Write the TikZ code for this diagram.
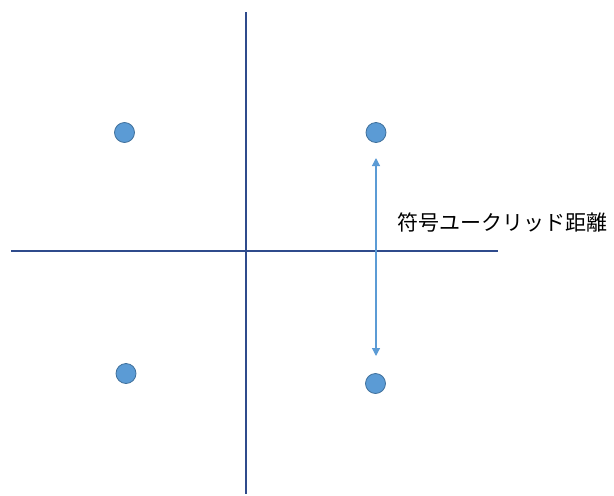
\documentclass[tikz,border=0pt]{standalone}
\usepackage{fontspec}
\newfontfamily\cjk{Noto Sans CJK JP}
\usetikzlibrary{arrows.meta}
\definecolor{axiscol}{HTML}{2F4B8C}
\definecolor{dotfill}{HTML}{5B9BD5}
\definecolor{dotedge}{HTML}{41719C}
\tikzset{
  axis/.style={draw=axiscol, line width=1.2pt},
  dot/.style={circle, fill=dotfill, draw=dotedge, line width=0.8pt, minimum size=20pt, inner sep=0pt},
  distarrow/.style={draw=dotfill, line width=1.2pt, {Triangle[length=8pt,width=8pt]}-{Triangle[length=8pt,width=8pt]}},
  lbl/.style={font=\cjk\fontsize{21pt}{24pt}\selectfont, inner sep=0pt, anchor=west}
}
\begin{document}
\begin{tikzpicture}[x=1pt,y=-1pt]
\useasboundingbox (0,0) rectangle (614,496);
\coordinate (vtop) at (246,12);
\coordinate (vbot) at (246,494);
\coordinate (hleft) at (11,251);
\coordinate (hright) at (498,251);
\draw[axis] (vtop) -- (vbot);
\draw[axis] (hleft) -- (hright);
\node[dot] (tl) at (124.5,132.5) {};
\node[dot] (tr) at (376,132.5) {};
\node[dot] (bl) at (126,373.5) {};
\node[dot] (br) at (375.5,383.5) {};
\coordinate (atop) at (376,158);
\coordinate (abot) at (376,356);
\draw[distarrow] (atop) -- (abot);
\node[lbl] (label) at (397,222.5) {符号ユークリッド距離};
\end{tikzpicture}
\end{document}
